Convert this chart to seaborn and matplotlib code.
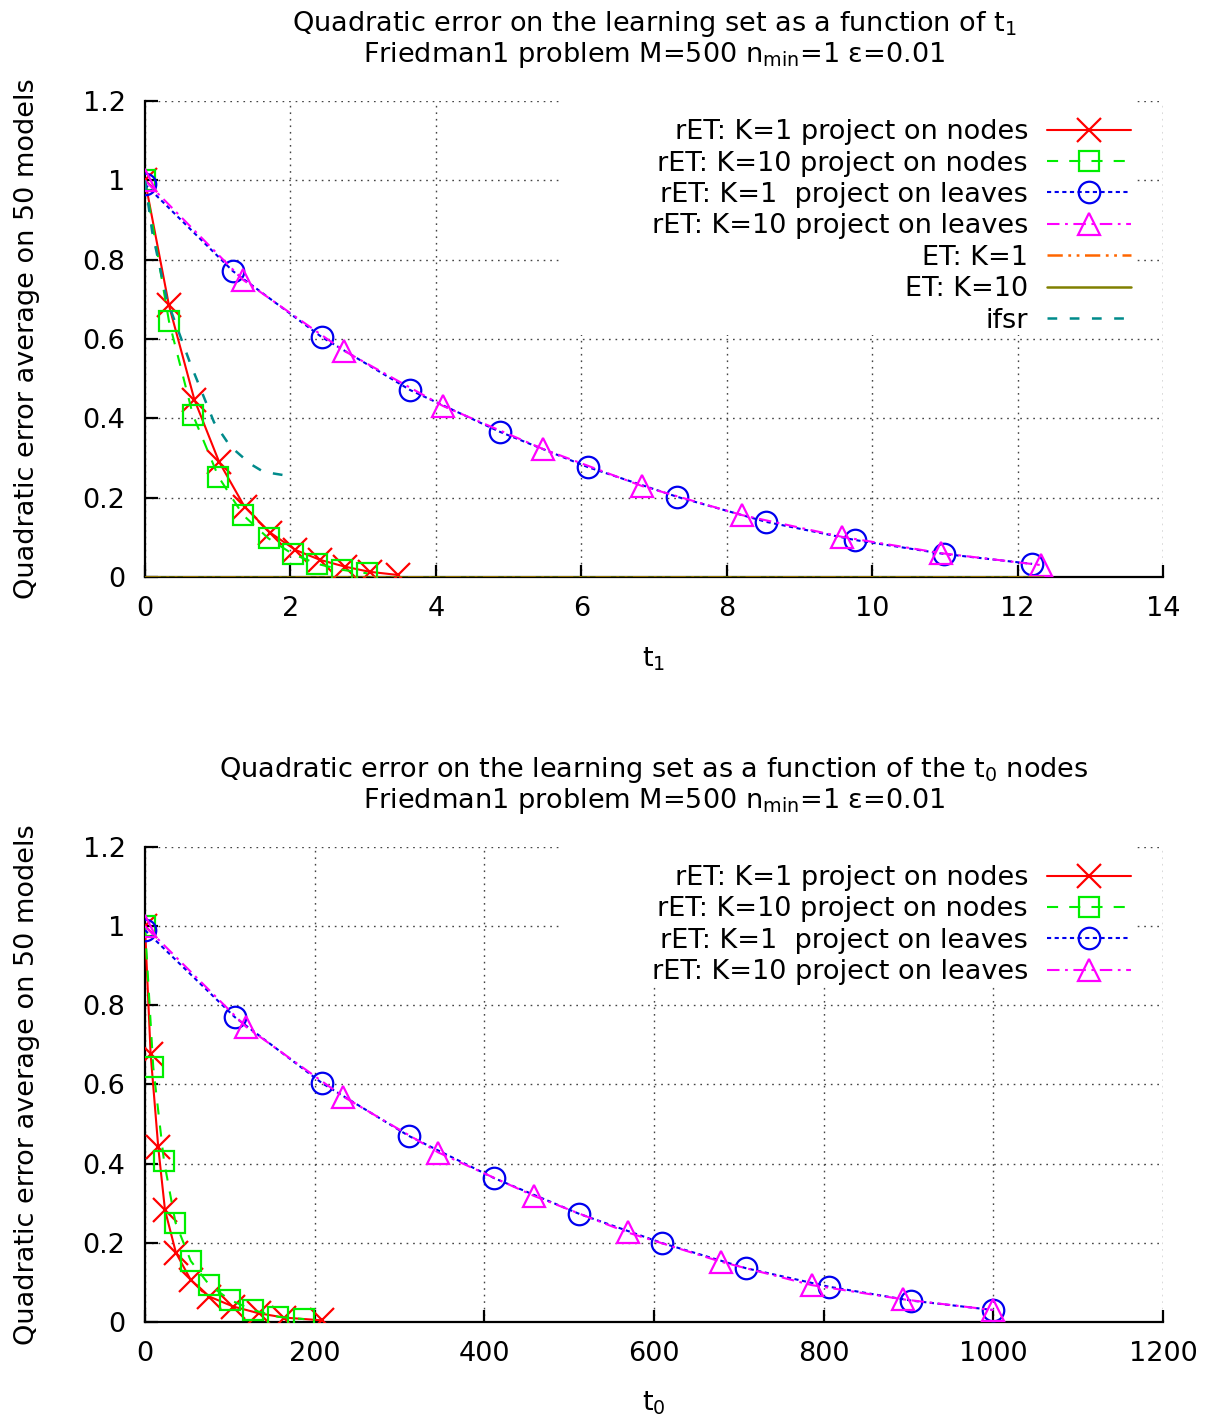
import matplotlib
matplotlib.use("Agg")
import matplotlib.pyplot as plt
from matplotlib.patches import Rectangle
import seaborn as sns

sns.set_style("white")
plt.rcParams["font.family"] = ["DejaVu Sans"]
plt.rcParams["mathtext.default"] = "regular"
plt.rcParams["lines.scale_dashes"] = False
for key in ["text.color", "axes.labelcolor", "xtick.color", "ytick.color"]:
    plt.rcParams[key] = "black"

# ---------------- data: error vs t1 ----------------
t1_nodes_k1 = [0, 0.33, 0.68, 1.02, 1.37, 1.72, 2.07, 2.41, 2.75, 3.09, 3.48]
err_nodes_k1 = [1.0, 0.685, 0.447, 0.29, 0.177, 0.112, 0.068, 0.043, 0.026, 0.013, 0.005]

t1_nodes_k10 = [0, 0.33, 0.66, 1.01, 1.35, 1.70, 2.03, 2.37, 2.71, 3.06]
err_nodes_k10 = [1.0, 0.645, 0.408, 0.253, 0.156, 0.097, 0.058, 0.033, 0.018, 0.009]

t1_leaves_k1 = [0, 1.21, 2.43, 3.65, 4.88, 6.09, 7.32, 8.54, 9.77, 10.99, 12.2]
err_leaves_k1 = [0.99, 0.771, 0.605, 0.471, 0.366, 0.277, 0.202, 0.139, 0.093, 0.058, 0.033]

t1_leaves_k10 = [0, 1.35, 2.74, 4.10, 5.47, 6.84, 8.21, 9.59, 10.95, 12.32]
err_leaves_k10 = [1.0, 0.749, 0.570, 0.431, 0.323, 0.229, 0.156, 0.101, 0.060, 0.030]

t1_et_k1 = [0, 12.35]
err_et_k1 = [0.0, 0.0]
t1_et_k10 = [0, 12.35]
err_et_k10 = [0.0, 0.0]

t1_ifsr = [0, 0.1, 0.3, 0.62, 0.95, 1.17, 1.45, 1.63, 1.9]
err_ifsr = [1.0, 0.87, 0.70, 0.54, 0.39, 0.33, 0.285, 0.265, 0.257]

# ---------------- data: error vs t0 ----------------
t0_nodes_k1 = [0, 6.7, 15.7, 23.6, 36.5, 54, 76, 104, 134, 164, 209]
err0_nodes_k1 = [1.0, 0.677, 0.441, 0.283, 0.175, 0.106, 0.064, 0.039, 0.022, 0.011, 0.004]

t0_nodes_k10 = [0, 9.8, 22.4, 36, 54, 76, 100, 127, 157, 188]
err0_nodes_k10 = [1.0, 0.643, 0.407, 0.251, 0.154, 0.093, 0.056, 0.030, 0.013, 0.007]

t0_leaves_k1 = [0, 106, 209, 311, 412, 512, 610, 708, 806, 903, 1000]
err0_leaves_k1 = [0.99, 0.770, 0.603, 0.470, 0.363, 0.273, 0.199, 0.136, 0.089, 0.054, 0.030]

t0_leaves_k10 = [0, 119, 234, 346, 459, 569, 679, 786, 894, 1000]
err0_leaves_k10 = [1.0, 0.746, 0.569, 0.428, 0.318, 0.226, 0.152, 0.093, 0.057, 0.030]

# ---------------- labels / ticks ----------------
series_labels = [
    "rET: K=1 project on nodes",
    "rET: K=10 project on nodes",
    "rET: K=1  project on leaves",
    "rET: K=10 project on leaves",
    "ET: K=1",
    "ET: K=10",
    "ifsr",
]
y_ticks = [0, 0.2, 0.4, 0.6, 0.8, 1.0, 1.2]
y_tick_labels = ["0", "0.2", "0.4", "0.6", "0.8", "1", "1.2"]
x1_ticks = [0, 2, 4, 6, 8, 10, 12, 14]
x0_ticks = [0, 200, 400, 600, 800, 1000, 1200]

title_top = ["Quadratic error on the learning set as a function of t$_1$",
             "Friedman1 problem M=500 n$_{min}$=1 \u03b5=0.01"]
title_bot = ["Quadratic error on the learning set as a function of the t$_0$ nodes",
             "Friedman1 problem M=500 n$_{min}$=1 \u03b5=0.01"]
y_label = "Quadratic error average on 50 models"

FS = 19.5

styles = {
    "nodes_k1": dict(color="#ff0000", marker="x", linestyle="-", lw=1.5, ms=17, mew=1.6),
    "nodes_k10": dict(color="#00ee00", marker="s", linestyle=(0, (8, 8)), lw=1.5, ms=15, mew=1.6),
    "leaves_k1": dict(color="#0000ee", marker="o", linestyle=(0, (3, 2.5)), lw=1.5, ms=15.5, mew=1.6),
    "leaves_k10": dict(color="#ff00ff", marker="^", linestyle=(0, (9, 4, 2, 4)), lw=1.5, ms=15.5, mew=1.6),
    "et_k1": dict(color="#ff6600", marker=None, linestyle=(0, (11, 4, 2, 4, 2, 4)), lw=1.8, ms=0, mew=0),
    "et_k10": dict(color="#808000", marker=None, linestyle="-", lw=1.8, ms=0, mew=0),
    "ifsr": dict(color="#008b8b", marker=None, linestyle=(0, (7, 9)), lw=1.8, ms=0, mew=0),
}


def draw(ax, x, y, key, label):
    st = styles[key]
    kw = dict(x=x, y=y, ax=ax, color=st["color"], linestyle=st["linestyle"],
              linewidth=st["lw"], label=label, sort=False, errorbar=None, zorder=3)
    if st["marker"]:
        kw.update(marker=st["marker"], markersize=st["ms"],
                  markeredgewidth=st["mew"], markeredgecolor=st["color"],
                  markerfacecolor="none")
    sns.lineplot(**kw)


def style_axes(ax, xticks, xlab, legend_bottom, title_lines):
    ax.set_xlim(xticks[0], xticks[-1])
    ax.set_ylim(0, 1.2)
    ax.set_xticks(xticks)
    ax.set_xticklabels([str(t) for t in xticks], fontsize=FS)
    ax.set_yticks(y_ticks)
    ax.set_yticklabels(y_tick_labels, fontsize=FS)
    ax.set_axisbelow(True)
    ax.grid(True, color="#444444", linewidth=1.0, linestyle=(0, (1.2, 3.5)))
    for s in ["top", "right"]:
        ax.spines[s].set_visible(False)
    for s in ["left", "bottom"]:
        ax.spines[s].set_linewidth(1.6)
        ax.spines[s].set_color("black")
        ax.spines[s].set_zorder(2.5)
    ax.tick_params(axis="both", direction="in", length=9, width=1.6,
                   bottom=True, left=True, top=False, right=False,
                   colors="black")
    ax.tick_params(axis="x", pad=14)
    ax.tick_params(axis="y", pad=14)
    ax.set_xlabel(xlab, fontsize=FS, color="black")
    ax.set_ylabel(y_label, fontsize=FS, color="black")
    ax.xaxis.set_label_coords(0.5, -0.143)
    ax.yaxis.set_label_coords(-0.103, 0.5)
    ax.text(0.5, 1.162, title_lines[0], transform=ax.transAxes, fontsize=FS,
            ha="center", va="center", color="black")
    ax.text(0.5, 1.096, title_lines[1], transform=ax.transAxes, fontsize=FS,
            ha="center", va="center", color="black")
    # opaque key background hiding the grid
    ax.add_patch(Rectangle((0.41, legend_bottom), 0.561, 1.0 - legend_bottom,
                           transform=ax.transAxes, facecolor="white",
                           edgecolor="none", zorder=1))
    leg = ax.legend(loc="upper right", bbox_to_anchor=(0.9685, 0.962),
                    markerfirst=False, frameon=False, fontsize=FS,
                    handlelength=3.1, handletextpad=0.7, labelspacing=0.2,
                    borderpad=0, borderaxespad=0, numpoints=1,
                    labelcolor="black")
    return leg


fig = plt.figure(figsize=(12.13, 14.19), dpi=100)
ax1 = fig.add_axes([0.1195, 0.5934, 0.8393, 0.3354])
ax2 = fig.add_axes([0.1195, 0.0684, 0.8393, 0.3347])

draw(ax1, t1_nodes_k1, err_nodes_k1, "nodes_k1", series_labels[0])
draw(ax1, t1_nodes_k10, err_nodes_k10, "nodes_k10", series_labels[1])
draw(ax1, t1_leaves_k1, err_leaves_k1, "leaves_k1", series_labels[2])
draw(ax1, t1_leaves_k10, err_leaves_k10, "leaves_k10", series_labels[3])
draw(ax1, t1_et_k1, err_et_k1, "et_k1", series_labels[4])
draw(ax1, t1_et_k10, err_et_k10, "et_k10", series_labels[5])
draw(ax1, t1_ifsr, err_ifsr, "ifsr", series_labels[6])
style_axes(ax1, x1_ticks, "t$_1$", 0.508, title_top)

draw(ax2, t0_nodes_k1, err0_nodes_k1, "nodes_k1", series_labels[0])
draw(ax2, t0_nodes_k10, err0_nodes_k10, "nodes_k10", series_labels[1])
draw(ax2, t0_leaves_k1, err0_leaves_k1, "leaves_k1", series_labels[2])
draw(ax2, t0_leaves_k10, err0_leaves_k10, "leaves_k10", series_labels[3])
style_axes(ax2, x0_ticks, "t$_0$", 0.705, title_bot)

fig.savefig("out.png", dpi=100, facecolor="white")
